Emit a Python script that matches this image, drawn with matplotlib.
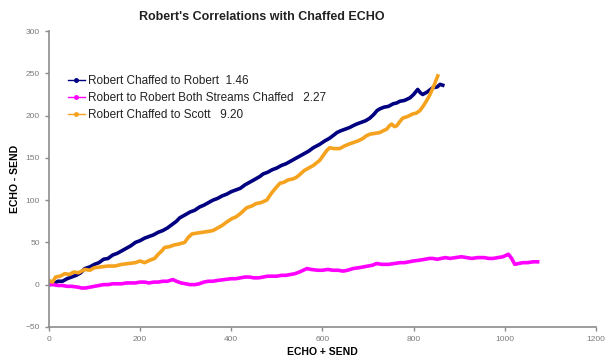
import numpy as np
import matplotlib
matplotlib.use("Agg")
import matplotlib.pyplot as plt
from matplotlib.lines import Line2D

plt.rcParams['font.family'] = ['Liberation Sans', 'DejaVu Sans']

# ECHO + SEND (x) vs ECHO - SEND (y) for each pairing
robert_x = [0, 10, 20, 30, 40, 50, 60, 70, 79, 90, 100, 110, 120, 130, 140, 150,
            160, 170, 180, 190, 200, 210, 220, 230, 240, 250, 260, 270, 280, 287,
            297, 310, 320, 331, 340, 350, 360, 370, 380, 390, 400, 410, 420, 430,
            440, 450, 463, 470, 480, 490, 500, 510, 520, 530, 540, 550, 560, 570,
            580, 594, 605, 615, 625, 632, 640, 650, 660, 667, 675, 685, 695, 704,
            712, 720, 726, 735, 745, 755, 763, 770, 780, 792, 800, 809, 815, 820,
            830, 842, 852, 858, 864]
robert_y = [0, 1, 4, 4, 7, 9, 11, 14, 19, 21, 24, 26, 30, 31, 35, 37,
            40, 43, 46, 50, 52, 55, 57, 59, 62, 64, 67, 71, 75, 79,
            82, 86, 88, 92, 94, 97, 100, 102, 105, 107, 110, 112, 114, 118,
            121, 124, 128, 131, 133, 136, 138, 141, 143, 146, 149, 152, 155, 158,
            162, 166, 170, 173, 177, 180, 182, 184, 186, 188, 190, 192, 194, 197,
            201, 206, 208, 210, 211, 214, 215, 217, 218, 221, 225, 231, 227, 225,
            228, 233, 234, 237, 236]

both_x = [0, 10, 20, 30, 40, 50, 64, 72, 80, 90, 100, 110, 120, 130, 140, 150,
          160, 170, 180, 190, 200, 210, 220, 230, 240, 250, 260, 266, 272, 280,
          290, 300, 310, 320, 330, 340, 350, 360, 370, 385, 400, 410, 420, 430,
          440, 450, 460, 470, 480, 490, 500, 510, 520, 530, 540, 550, 558, 566,
          575, 590, 600, 612, 623, 635, 645, 655, 667, 680, 690, 700, 710, 719,
          730, 745, 758, 770, 780, 790, 800, 814, 825, 835, 842, 852, 860, 870,
          880, 892, 905, 916, 928, 940, 955, 965, 974, 985, 996, 1004, 1008, 1015,
          1022, 1030, 1040, 1050, 1062, 1072]
both_y = [0, 0, -1, -1, -2, -2, -3, -4, -4, -3, -2, -1, 0, 0, 1, 1,
          1, 2, 2, 2, 3, 3, 2, 3, 3, 4, 4, 5, 6, 4,
          2, 1, 0, 0, 1, 3, 4, 4, 5, 6, 7, 7, 8, 9,
          9, 8, 8, 9, 10, 10, 10, 11, 11, 12, 13, 15, 17, 19,
          18, 17, 17, 18, 17, 17, 16, 17, 19, 20, 21, 22, 23, 25,
          24, 24, 25, 26, 26, 27, 28, 29, 30, 31, 31, 30, 31, 32,
          31, 32, 33, 32, 31, 32, 32, 31, 31, 32, 33, 35, 36, 31,
          24, 25, 26, 26, 27, 27]

scott_x = [0, 8, 15, 25, 35, 45, 55, 65, 79, 90, 100, 115, 130, 145, 160, 175,
           190, 200, 210, 222, 232, 240, 248, 254, 265, 275, 285, 298, 306, 314,
           325, 338, 350, 360, 370, 380, 390, 401, 410, 420, 428, 434, 445, 455,
           465, 478, 488, 497, 507, 515, 525, 535, 543, 552, 560, 570, 580, 594,
           602, 610, 616, 625, 638, 648, 657, 667, 678, 689, 696, 704, 715, 726,
           733, 741, 747, 752, 758, 763, 770, 776, 787, 798, 806, 814, 822, 830,
           836, 845, 853]
scott_y = [5, 3, 9, 10, 13, 12, 15, 14, 18, 17, 20, 21, 22, 22, 24, 25,
           26, 28, 26, 29, 31, 36, 40, 44, 45, 47, 48, 50, 56, 60,
           61, 62, 63, 64, 67, 70, 74, 78, 80, 84, 88, 91, 93, 96,
           97, 100, 108, 114, 120, 121, 124, 125, 127, 131, 135, 138, 141, 147,
           153, 159, 162, 161, 161, 164, 166, 168, 170, 173, 176, 178, 179, 180,
           182, 184, 188, 190, 187, 188, 193, 197, 199, 202, 203, 206, 212, 219,
           225, 236, 247]

labels = ["Robert Chaffed to Robert  1.46",
          "Robert to Robert Both Streams Chaffed   2.27",
          "Robert Chaffed to Scott   9.20"]
colors = ["#000080", "#FF00FF", "#F5A21E"]

fig = plt.figure(figsize=(6.10, 3.62), dpi=100)
ax = fig.add_axes([0.080, 0.097, 0.897, 0.817])

ax.plot(robert_x, robert_y, color=colors[0], lw=2.6)
ax.plot(both_x, both_y, color=colors[1], lw=2.6)
ax.plot(scott_x, scott_y, color=colors[2], lw=2.6)

ax.set_xlim(0, 1200)
ax.set_ylim(-50, 300)
ax.set_xticks(np.arange(0, 1201, 200))
ax.set_yticks(np.arange(-50, 301, 50))

for s in ['top', 'right']:
    ax.spines[s].set_visible(False)
for s in ['left', 'bottom']:
    ax.spines[s].set_color('#8c8c8c')
    ax.spines[s].set_linewidth(1.2)
ax.tick_params(direction='out', length=3, width=1, color='#8c8c8c',
               labelcolor='#7a7a7a', labelsize=6)

ax.set_xlabel("ECHO + SEND", fontsize=7.5, fontweight='bold', labelpad=3)
ax.set_ylabel("ECHO - SEND", fontsize=7.5, fontweight='bold', labelpad=4)
fig.text(0.43, 0.952, "Robert's Correlations with Chaffed ECHO",
         ha='center', va='center', fontsize=9, fontweight='bold', color='#222222')

handles = [Line2D([0], [0], color=c, lw=1, marker='o', markersize=2.5) for c in colors]
ax.legend(handles, labels, loc='upper left', bbox_to_anchor=(0.015, 0.886),
          frameon=False, fontsize=8.5, handlelength=1.45, handletextpad=0.25,
          labelspacing=0.42, labelcolor='#222222')

fig.savefig("out.png", dpi=100)
